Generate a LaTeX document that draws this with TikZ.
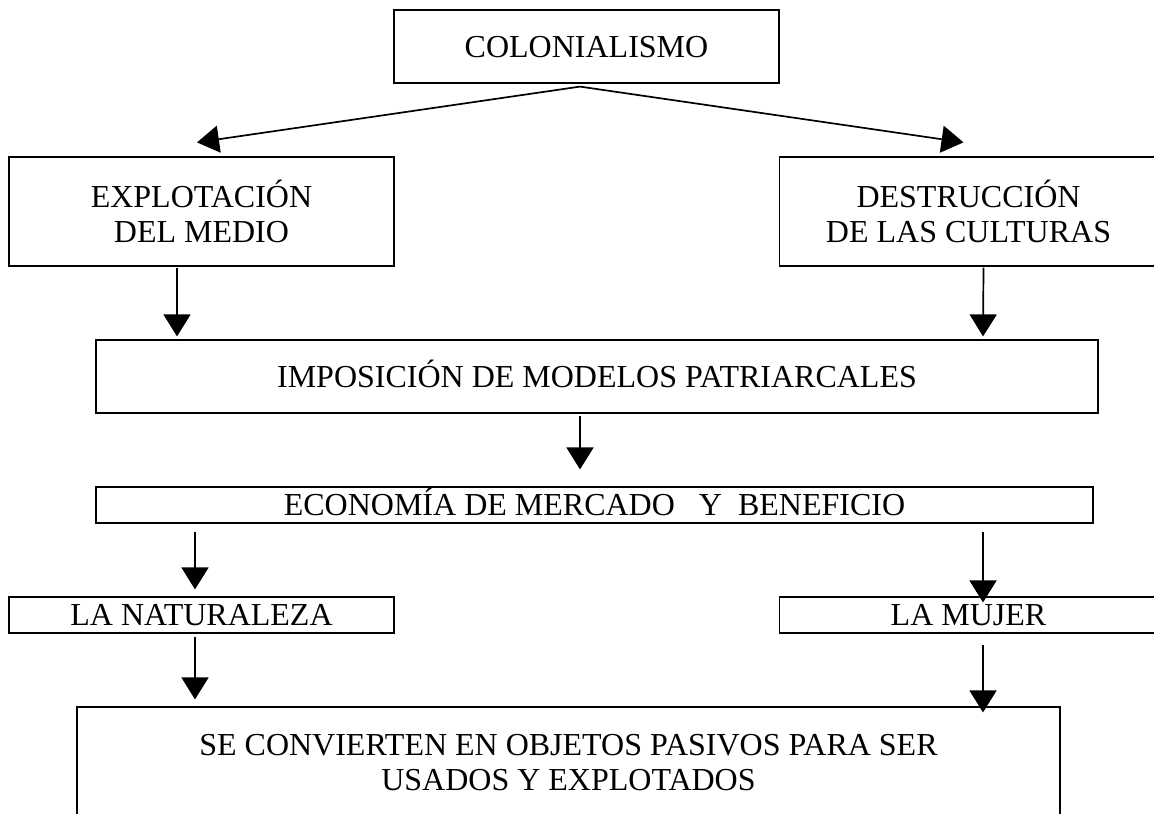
\documentclass[tikz,border=0pt]{standalone}
\usepackage{fontspec}
\setmainfont{Liberation Serif}
\usetikzlibrary{arrows.meta}

\tikzset{
  box/.style={draw, line width=0.6pt, inner sep=0pt, align=center, font=\fontsize{16}{17.5}\selectfont},
  oneline/.style={text height=10.6pt, text depth=0pt},
  arr/.style={-{Triangle[length=11pt,width=13.5pt]}, line width=0.85pt},
}

\begin{document}
\begin{tikzpicture}[x=0.5pt, y=-0.5pt]
  \useasboundingbox (0,0) rectangle (1154,813);
  \clip (0,0) rectangle (1154,813);

  \node[box, oneline, minimum width=192.5pt, minimum height=36.5pt] (col) at (586.5,46.5) {COLONIALISMO};
  \node[box, minimum width=192.5pt, minimum height=54.5pt] (exp) at (201.5,211.5) {EXPLOTACIÓN\\DEL MEDIO};
  \node[box, minimum width=189pt, minimum height=54.5pt] (des) at (968.5,211.5) {DESTRUCCIÓN\\DE LAS CULTURAS};
  \node[box, oneline, minimum width=501pt, minimum height=36.5pt] (imp) at (597,376.5) {IMPOSICIÓN DE MODELOS PATRIARCALES};
  \node[box, oneline, minimum width=498.5pt, minimum height=18pt] (eco) at (594.5,505) {ECONOMÍA DE MERCADO~~~Y~~BENEFICIO};
  \node[box, oneline, minimum width=192.5pt, minimum height=18pt] (nat) at (201.5,615) {LA NATURALEZA};
  \node[box, oneline, minimum width=189pt, minimum height=18pt] (muj) at (968.5,615) {LA MUJER};
  \node[box, minimum width=491.5pt, minimum height=55.5pt] (se) at (568.5,762.5) {SE CONVIERTEN EN OBJETOS PASIVOS PARA SER\\USADOS Y EXPLOTADOS};

  % colonialismo
  \draw[arr] ([xshift=-3.25pt,yshift=-1.5pt]col.south) -- ([xshift=-2.25pt,yshift=7pt]exp.north);
  \draw[arr] ([xshift=-3.25pt,yshift=-1.5pt]col.south) -- ([xshift=-2.5pt,yshift=7pt]des.north);

  % hacia el modelo patriarcal
  \draw[arr] ([xshift=-12.25pt,yshift=-0.5pt]exp.south) -- ([xshift=-210pt,yshift=1.5pt]imp.north);
  \draw[arr] ([xshift=7.5pt,yshift=-0.5pt]des.south) -- ([xshift=193pt,yshift=1.5pt]imp.north);
  \draw[arr] ([xshift=-8.5pt,yshift=-1pt]imp.south) -- ([xshift=-7.25pt,yshift=8.5pt]eco.north);

  % mercado
  \draw[arr] ([xshift=-199.75pt,yshift=-4pt]eco.south) -- ([xshift=-3.25pt,yshift=3.5pt]nat.north);
  \draw[arr] ([xshift=194.25pt,yshift=-4pt]eco.south) -- ([xshift=7.25pt,yshift=-3pt]muj.north);
  \draw[arr] ([xshift=-3.25pt,yshift=-1.5pt]nat.south) -- ([xshift=-186.75pt,yshift=3.5pt]se.north);
  \draw[arr] ([xshift=7.25pt,yshift=-5.5pt]muj.south) -- ([xshift=207.25pt,yshift=-3pt]se.north);
\end{tikzpicture}
\end{document}
